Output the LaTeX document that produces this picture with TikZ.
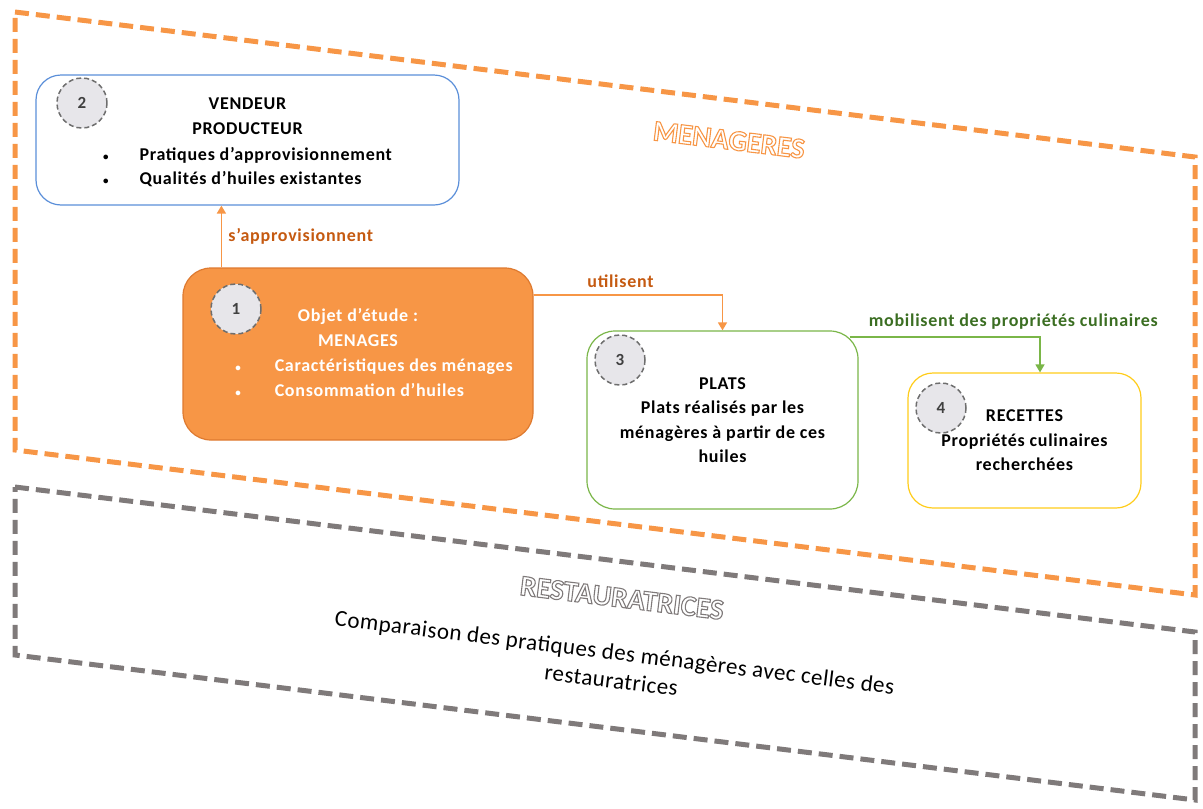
\documentclass[tikz,border=0pt]{standalone}
\usepackage{fontspec}
\setmainfont{Carlito}
\usetikzlibrary{arrows.meta, positioning}

\definecolor{menorange}{HTML}{F79646}
\definecolor{menborder}{HTML}{DE7A30}
\definecolor{lblorange}{HTML}{C55A11}
\definecolor{resgray}{HTML}{7F7A7A}
\definecolor{vendblue}{HTML}{5B8FD9}
\definecolor{platgreen}{HTML}{7AB648}
\definecolor{lblgreen}{HTML}{3B6E22}
\definecolor{recyellow}{HTML}{FFCC1A}
\definecolor{numgray}{HTML}{6E6E6E}
\definecolor{numfill}{HTML}{E7E6EA}
\definecolor{numtext}{HTML}{404040}

\newcommand{\smallbullet}{{\fontsize{11}{11}\selectfont\textbullet}}
% white letters with a coloured outline (#1: stroke colour as r g b)
\newcommand{\outlined}[2]{\special{pdf:literal direct #1 RG 2 Tr 1.1 w}#2\special{pdf:literal direct 0 Tr}}

\begin{document}
\begin{tikzpicture}[x=1pt, y=-1pt,
  every node/.style={font=\bfseries\fontsize{18}{24.5}\selectfont\addfontfeature{LetterSpace=4}},
  box/.style={draw, line width=1.2pt, align=center, inner sep=0pt},
  numdisc/.style={circle, draw=numgray, dash pattern=on 5pt off 3pt, fill=numfill, line width=1.5pt, minimum size=50pt, inner sep=0pt, text=numtext, font=\bfseries\fontsize{17}{18}\selectfont},
  zone/.style={line width=5pt, dash pattern=on 14pt off 7pt},
  arrow/.style={-{Triangle[width=9pt,length=8pt]}, line width=1.5pt},
  lbl/.style={font=\bfseries\fontsize{18}{20}\selectfont\addfontfeature{LetterSpace=4}},
  title/.style={font=\bfseries\fontsize{29}{32}\selectfont, rotate=-7, text=white}
]
\useasboundingbox (0,0) rectangle (1203,809);

% Zones
\draw[zone, menorange] (15,12) -- (1195,157) -- (1195,595) -- (15,450) -- cycle;
\draw[zone, resgray] (15,487) -- (1195,632) -- (1195,800) -- (15,655) -- cycle;

% Zone titles
\node[title] (menagerestitle) at (729,140) {\outlined{0.969 0.588 0.275}{MENAGERES}};
\node[title] (restitle) at (622,598) {\outlined{0.498 0.478 0.478}{RESTAURATRICES}};

\node[font=\fontsize{23}{28}\selectfont\addfontfeature{LetterSpace=2}, rotate=-7, align=center] (comparaison) at (613,666)
  {Comparaison des pratiques des ménagères avec celles des\\restauratrices};

% Boxes
\node[box, draw=vendblue, rounded corners=25pt, minimum width=423pt, minimum height=130pt] (vendeur) at (247.5,140)
  {\rule{0pt}{22pt}VENDEUR\\PRODUCTEUR\\[1.5pt]
   \begin{tabular}[t]{@{}l@{\hspace{31pt}}l@{}}
   \smallbullet & Pratiques d’approvisionnement\\
   \smallbullet & Qualités d’huiles existantes
   \end{tabular}};
\node[box, draw=menborder, fill=menorange, text=white, rounded corners=28pt, minimum width=350pt, minimum height=172pt] (menages) at (358,354)
  {\rule{0pt}{17pt}Objet d’étude :\\MENAGES\\[1pt]
   \hspace*{32pt}\begin{tabular}[t]{@{}l@{\hspace{34pt}}l@{}}
   \smallbullet & Caractéristiques des ménages\\
   \smallbullet & Consommation d’huiles
   \end{tabular}};
\node[box, draw=platgreen, rounded corners=28pt, minimum width=271pt, minimum height=178pt] (plats) at (722.5,420)
  {PLATS\\Plats réalisés par les\\ménagères à partir de ces\\huiles};
\node[box, draw=recyellow, rounded corners=25pt, minimum width=233pt, minimum height=135pt] (recettes) at (1024.5,440.5)
  {RECETTES\\Propriétés culinaires\\recherchées};

% Numbers
\node[numdisc] (num2) at (82,103) {2};
\node[numdisc] (num1) at (236,309) {1};
\node[numdisc] (num3) at (620,360) {3};
\node[numdisc] (num4) at (941,408) {4};

% Connectors
\draw[arrow, menorange] ([xshift=39pt]menages.north west) -- ([xshift=39pt]menages.north west |- vendeur.south)
  node[lbl, text=lblorange, pos=0.5, right=3pt] {s’approvisionnent};
\draw[arrow, menorange] ([yshift=59pt]menages.east) -| (plats.north)
  node[lbl, text=lblorange, pos=0.23, above=3pt] {utilisent};
\draw[arrow, platgreen] ([xshift=-9pt,yshift=83pt]plats.east) -| ([xshift=15.5pt]recettes.north)
  node[lbl, text=lblgreen, pos=0.43, above=4pt] {mobilisent des propriétés culinaires};
\end{tikzpicture}
\end{document}
